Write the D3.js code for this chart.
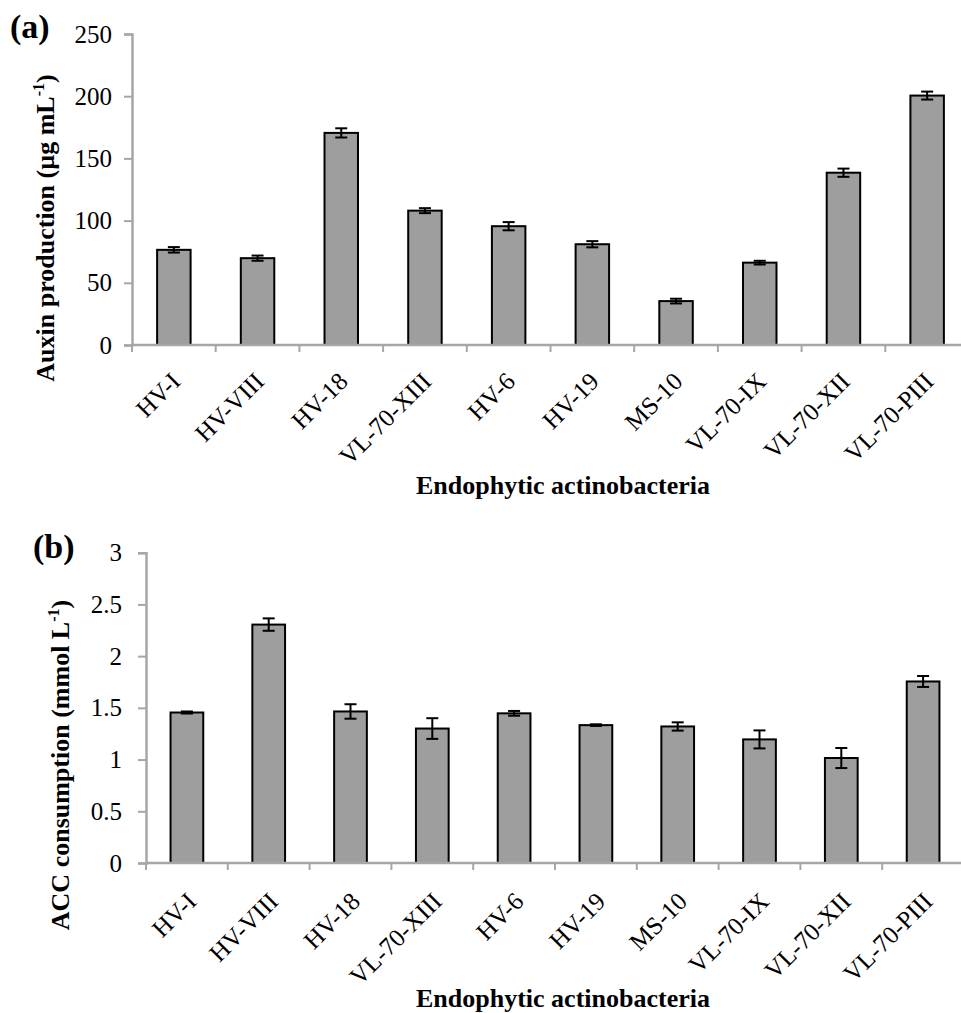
<!DOCTYPE html>
<html lang="en">
<head>
  <meta charset="UTF-8">
  <title>Auxin production and ACC consumption</title>
  <script src="https://d3js.org/d3.v7.min.js"></script>
  <style>
    body { margin: 0; padding: 0; background: white; }
    svg { display: block; font-family: "Liberation Serif", "Times New Roman", serif; }
  </style>
</head>
<body>
  <svg id="chart" width="961" height="1013"></svg>

  <script>
    // Strain names, shared by both panels
    const strains = ["HV-I", "HV-VIII", "HV-18", "VL-70-XIII", "HV-6", "HV-19", "MS-10", "VL-70-IX", "VL-70-XII", "VL-70-PIII"];

    // Panel (a): auxin production, µg mL-1
    const auxinMean = [76.5, 69.8, 170.5, 108, 95.5, 81, 35.3, 66.2, 138.5, 200.5];
    const auxinErr  = [2.2, 2.1, 3.7, 2.0, 3.3, 2.5, 1.9, 1.5, 3.3, 3.2];
    const auxinTicks = [0, 50, 100, 150, 200, 250];

    // Panel (b): ACC consumption, mmol L-1
    const accMean = [1.455, 2.305, 1.465, 1.30, 1.447, 1.333, 1.32, 1.195, 1.015, 1.755];
    const accErr  = [0.01, 0.06, 0.07, 0.10, 0.023, 0.008, 0.04, 0.087, 0.097, 0.053];
    const accTicks = [0, 0.5, 1, 1.5, 2, 2.5, 3];

    const svg = d3.select("#chart");
    const axisGrey = "#a6a6a6";
    const barGrey = "#9e9e9e";

    // Draws one bar panel with error bars
    function drawPanel(p) {
      const g = svg.append("g");

      const x = d3.scaleBand()
        .domain(strains)
        .range([p.left, p.right])
        .padding(0);
      const y = d3.scaleLinear()
        .domain([0, d3.max(p.ticks)])
        .range([p.bottom, p.top]);

      const bw = x.bandwidth();
      const rows = strains.map((s, i) => ({ name: s, v: p.mean[i], e: p.err[i] }));

      // y axis
      const yAxis = g.append("g")
        .attr("transform", `translate(${p.left},0)`)
        .call(d3.axisLeft(y).tickValues(p.ticks).tickSize(8).tickPadding(p.tickPad).tickFormat(d => String(d)));
      yAxis.attr("font-size", 25).attr("font-family", "Liberation Serif");
      yAxis.select(".domain").attr("stroke", axisGrey).attr("stroke-width", 2.5);
      yAxis.selectAll(".tick line").attr("stroke", axisGrey).attr("stroke-width", 2);
      yAxis.selectAll(".tick text").attr("fill", "#000");

      // bars
      g.selectAll(".bar")
        .data(rows)
        .enter()
        .append("rect")
        .attr("class", "bar")
        .attr("x", d => x(d.name) + bw * 0.3)
        .attr("width", bw * 0.4)
        .attr("y", d => y(d.v))
        .attr("height", d => y(0) - y(d.v))
        .attr("fill", barGrey)
        .attr("stroke", "#000")
        .attr("stroke-width", 2);

      // x axis line and ticks at band edges
      g.append("line")
        .attr("x1", p.left).attr("x2", p.right)
        .attr("y1", y(0)).attr("y2", y(0))
        .attr("stroke", axisGrey).attr("stroke-width", 2.5);
      g.selectAll(".xtick")
        .data(strains)
        .enter()
        .append("line")
        .attr("class", "xtick")
        .attr("x1", d => x(d)).attr("x2", d => x(d))
        .attr("y1", y(0)).attr("y2", y(0) + 7)
        .attr("stroke", axisGrey).attr("stroke-width", 2);

      // error bars
      const eb = g.selectAll(".err")
        .data(rows)
        .enter()
        .append("g")
        .attr("class", "err")
        .attr("stroke", "#000")
        .attr("stroke-width", 2);
      const cx = d => x(d.name) + bw / 2;
      eb.append("line")
        .attr("x1", cx).attr("x2", cx)
        .attr("y1", d => y(d.v + d.e)).attr("y2", d => y(d.v - d.e));
      eb.append("line")
        .attr("x1", d => cx(d) - 6).attr("x2", d => cx(d) + 6)
        .attr("y1", d => y(d.v + d.e)).attr("y2", d => y(d.v + d.e));
      eb.append("line")
        .attr("x1", d => cx(d) - 6).attr("x2", d => cx(d) + 6)
        .attr("y1", d => y(d.v - d.e)).attr("y2", d => y(d.v - d.e));

      // rotated category labels
      g.selectAll(".xlabel")
        .data(strains)
        .enter()
        .append("text")
        .attr("class", "xlabel")
        .attr("text-anchor", "end")
        .attr("fill", "#000")
        .attr("transform", d => `translate(${x(d) + bw / 2 + p.labDx},${y(0) + p.labDy}) rotate(-45)`)
        .style("font-size", "25px")
        .text(d => d);

      // x axis title
      g.append("text")
        .attr("x", 563)
        .attr("y", p.xTitleY)
        .attr("text-anchor", "middle")
        .style("font-size", "26px")
        .style("font-weight", "bold")
        .text("Endophytic actinobacteria");

      // y axis title with superscript
      const yt = g.append("text")
        .attr("transform", `translate(${p.yTitleX},${p.yTitleY}) rotate(-90)`)
        .attr("text-anchor", "middle")
        .style("font-size", "26px")
        .style("font-weight", "bold");
      yt.append("tspan").text(p.yTitle);
      yt.append("tspan").attr("dy", -10).style("font-size", "16px").text("-1");
      yt.append("tspan").attr("dy", 10).text(")");

      // panel letter
      g.append("text")
        .attr("x", p.letterX)
        .attr("y", p.letterY)
        .style("font-size", "34px")
        .style("font-weight", "bold")
        .text(p.letter);
    }

    drawPanel({
      letter: "(a)", letterX: 10, letterY: 38,
      left: 132, right: 969, top: 34, bottom: 345,
      ticks: auxinTicks, mean: auxinMean, err: auxinErr,
      tickPad: 12, labDx: 8, labDy: 38,
      yTitle: "Auxin production (µg mL", yTitleX: 54, yTitleY: 228,
      xTitleY: 494
    });

    drawPanel({
      letter: "(b)", letterX: 33, letterY: 558,
      left: 146, right: 964, top: 552.7, bottom: 863,
      ticks: accTicks, mean: accMean, err: accErr,
      tickPad: 16, labDx: 11, labDy: 40,
      yTitle: "ACC consumption (mmol L", yTitleX: 69, yTitleY: 765,
      xTitleY: 1007
    });
  </script>
</body>
</html>
